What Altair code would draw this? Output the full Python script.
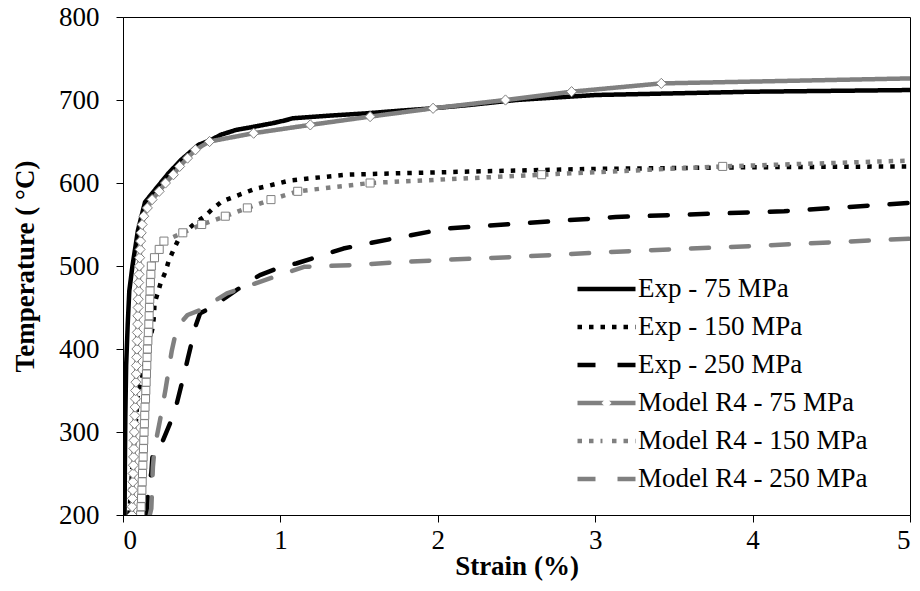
import altair as alt
import pandas as pd

series_names = ["Exp - 75 MPa", "Exp - 150 MPa", "Exp - 250 MPa",
                "Model R4 - 75 MPa", "Model R4 - 150 MPa", "Model R4 - 250 MPa"]
series_colors = ["#000000", "#000000", "#000000", "#808080", "#808080", "#808080"]
marker_keys = ["k1", "k2", "k3", "k4", "k5", "k6"]

# Exp - 75 MPa (black solid)
exp75_strain = [0.01, 0.012, 0.015, 0.02, 0.03, 0.04, 0.06, 0.095, 0.14, 0.2, 0.29, 0.37,
                0.48, 0.56, 0.62, 0.72, 0.81, 0.95, 1.02, 1.08, 1.3, 1.55, 1.75, 1.97,
                2.2, 2.5, 3.0, 3.5, 4.0, 4.5, 5.0]
exp75_temp = [200, 260, 320, 380, 430, 470, 500, 543, 577, 591, 612, 628,
              646, 652, 658, 664, 667, 672, 675, 678, 681, 684, 687, 690,
              694, 700, 706, 708, 710, 711, 712]

# Exp - 150 MPa (black dotted)
exp150_strain = [0.04, 0.06, 0.085, 0.095, 0.115, 0.15, 0.19, 0.197, 0.2, 0.22, 0.24, 0.27,
                 0.29, 0.32, 0.35, 0.4, 0.46, 0.52, 0.57, 0.63, 0.7, 0.77, 0.84, 0.91,
                 1.06, 1.21, 1.42, 1.8, 2.03, 2.5, 3.0, 4.0, 5.0]
exp150_temp = [200, 260, 320, 347, 359, 395, 427, 441, 455, 467, 480, 493,
               506, 519, 531, 542, 552, 560, 569, 578, 583, 588, 593, 596,
               603, 606, 610, 612, 613, 615, 617, 619, 620]

# Exp - 250 MPa (black dashed)
exp250_strain = [0.15, 0.16, 0.18, 0.19, 0.2, 0.25, 0.3, 0.34, 0.39, 0.41, 0.46, 0.49,
                 0.57, 0.66, 0.79, 0.87, 1.02, 1.1, 1.3, 1.4, 1.55, 1.8, 2.05, 2.5,
                 3.13, 4.2, 5.0]
exp250_temp = [200, 230, 251, 278, 282, 288, 311, 333, 371, 387, 427, 443,
               451, 463, 480, 489, 500, 503, 515, 521, 527, 536, 545, 551,
               559, 566, 576]

# Model R4 - 75 MPa (grey solid, diamond markers)
mod75_strain = [0.057, 0.058, 0.06, 0.061, 0.063, 0.064, 0.066, 0.067, 0.069, 0.07,
                0.072, 0.073, 0.075, 0.077, 0.079, 0.08, 0.082, 0.084, 0.085, 0.087,
                0.088, 0.09, 0.091, 0.093, 0.094, 0.096, 0.097, 0.099, 0.1, 0.102,
                0.104, 0.106, 0.109, 0.112, 0.116, 0.122, 0.132, 0.155, 0.185, 0.23,
                0.27, 0.32, 0.36, 0.41, 0.46, 0.55, 0.83, 1.19, 1.57, 1.97,
                2.43, 2.85, 3.42, 5.0]
mod75_temp = [200, 210, 220, 230, 240, 250, 260, 270, 280, 290,
              300, 310, 320, 330, 340, 350, 360, 370, 380, 390,
              400, 410, 420, 430, 440, 450, 460, 470, 480, 490,
              500, 510, 520, 530, 540, 550, 560, 570, 580, 590,
              600, 610, 620, 630, 640, 650, 660, 670, 680, 690,
              700, 710, 720, 726]

# Model R4 - 150 MPa (grey dotted, square markers)
mod150_strain = [0.112, 0.115, 0.118, 0.12, 0.122, 0.124, 0.126, 0.128, 0.13, 0.132,
                 0.134, 0.136, 0.138, 0.14, 0.143, 0.145, 0.147, 0.149, 0.151, 0.153,
                 0.155, 0.158, 0.161, 0.164, 0.166, 0.168, 0.17, 0.172, 0.174, 0.177,
                 0.18, 0.2, 0.23, 0.26, 0.38, 0.5, 0.65, 0.79, 0.94, 1.11,
                 1.57, 2.66, 3.81, 5.0]
mod150_temp = [200, 210, 220, 230, 240, 250, 260, 270, 280, 290,
               300, 310, 320, 330, 340, 350, 360, 370, 380, 390,
               400, 410, 420, 430, 440, 450, 460, 470, 480, 490,
               500, 510, 520, 530, 540, 550, 560, 570, 580, 590,
               600, 610, 620, 627]

# Model R4 - 250 MPa (grey dashed)
mod250_strain = [0.17, 0.18, 0.19, 0.2, 0.235, 0.27, 0.31, 0.33, 0.36, 0.41, 0.49,
                 0.66, 0.87, 1.15, 1.45, 1.7, 2.0, 2.5, 3.1, 4.0, 5.0]
mod250_temp = [200, 208, 258, 280, 314, 351, 398, 415, 430, 441, 447,
               467, 481, 499, 501, 504, 507, 511, 517, 524, 533]

x_ticks = [0, 1, 2, 3, 4, 5]
y_ticks = [200, 300, 400, 500, 600, 700, 800]

dash_patterns = [[1, 0], [4.5, 7], [18, 22], [1, 0], [4.5, 7], [18, 22]]
marker_paths = ["M0,0", "M0,0", "M0,0",
                "M-0.161,0L0,-0.165L0.161,0L0,0.165Z",
                "M-0.13,-0.13H0.13V0.13H-0.13Z",
                "M0,0"]
dotted_series = [series_names[1], series_names[4]]

all_series = [
    (series_names[0], exp75_strain, exp75_temp),
    (series_names[1], exp150_strain, exp150_temp),
    (series_names[2], exp250_strain, exp250_temp),
    (series_names[3], mod75_strain, mod75_temp),
    (series_names[4], mod150_strain, mod150_temp),
    (series_names[5], mod250_strain, mod250_temp),
]

rows = []
for name, xs, ys in all_series:
    for i, (xv, yv) in enumerate(zip(xs, ys)):
        rows.append({"series": name, "strain": xv, "temp": yv, "idx": i,
                     "dotted": name in dotted_series})
df = pd.DataFrame(rows)

mrows = []
for k in (3, 4):
    name, xs, ys = all_series[k]
    for xv, yv in list(zip(xs, ys))[:-1]:
        mrows.append({"mk": marker_keys[k], "strain": xv, "temp": yv})
mdf = pd.DataFrame(mrows)

FONT = "Liberation Serif"
LX, LY = 452, 257

xscale = alt.Scale(domain=[0, 5], nice=False)
yscale = alt.Scale(domain=[200, 800], nice=False)
xaxis = alt.Axis(values=x_ticks, format="d", title="Strain (%)", labelPadding=5, titlePadding=0)
yaxis = alt.Axis(values=y_ticks, format="d", title="Temperature ( °C)", labelPadding=17, titlePadding=19)

leg1 = alt.Legend(title=None, orient="none", legendX=LX, legendY=LY, direction="vertical",
                  columns=1, symbolType="stroke", clipHeight=30, zindex=1,
                  symbolSize=3364, symbolStrokeWidth=4.5, labelFont=FONT, labelFontSize=27,
                  labelColor="black", rowPadding=8, labelOffset=0, padding=0, labelLimit=400)
leg2 = alt.Legend(title=None, orient="none", legendX=LX, legendY=LY, direction="vertical",
                  columns=1, clipHeight=30, zindex=2,
                  symbolSize=3844, symbolStrokeWidth=1, symbolFillColor="white",
                  symbolStrokeColor="#808080", symbolOpacity=1, labelFont=FONT, labelFontSize=27,
                  labelOpacity=0, rowPadding=8, labelOffset=0, padding=0, labelLimit=400)

color_enc = alt.Color("series:N", scale=alt.Scale(domain=series_names, range=series_colors), legend=leg1)
dash_enc = alt.StrokeDash("series:N", scale=alt.Scale(domain=series_names, range=dash_patterns), legend=leg1)

base = alt.Chart(df).encode(
    x=alt.X("strain:Q", scale=xscale, axis=xaxis),
    y=alt.Y("temp:Q", scale=yscale, axis=yaxis),
    order="idx:Q",
    color=color_enc,
    strokeDash=dash_enc,
)

lines_round = base.transform_filter("!datum.dotted").mark_line(
    strokeWidth=4.5, strokeCap="round", strokeJoin="round", clip=True)
lines_dotted = base.transform_filter("datum.dotted").mark_line(
    strokeWidth=4.5, strokeCap="butt", strokeJoin="round", clip=True)

points = alt.Chart(mdf).mark_point(filled=True, fill="white", stroke="#808080", strokeWidth=1,
                                   size=3844, opacity=1, clip=True).encode(
    x=alt.X("strain:Q", scale=xscale),
    y=alt.Y("temp:Q", scale=yscale),
    shape=alt.Shape("mk:N", scale=alt.Scale(domain=marker_keys, range=marker_paths), legend=leg2),
)

chart = alt.layer(lines_dotted, lines_round, points).properties(
    width=787, height=498,
    autosize=alt.AutoSizeParams(type="none"),
    padding={"left": 115, "top": 9, "right": 2, "bottom": 66},
).configure_view(
    stroke="black", strokeWidth=1
).configure_axis(
    labelFont=FONT, labelFontSize=27, labelColor="black",
    titleFont=FONT, titleFontSize=27, titleFontWeight="bold", titleColor="black",
    grid=False, tickColor="black", domainColor="black", tickSize=7,
    domainWidth=1, tickWidth=1,
).configure_legend(
    labelFont=FONT, labelFontSize=27, labelColor="black",
)

chart.save("out.html", embed_options={"renderer": "svg", "actions": False})
